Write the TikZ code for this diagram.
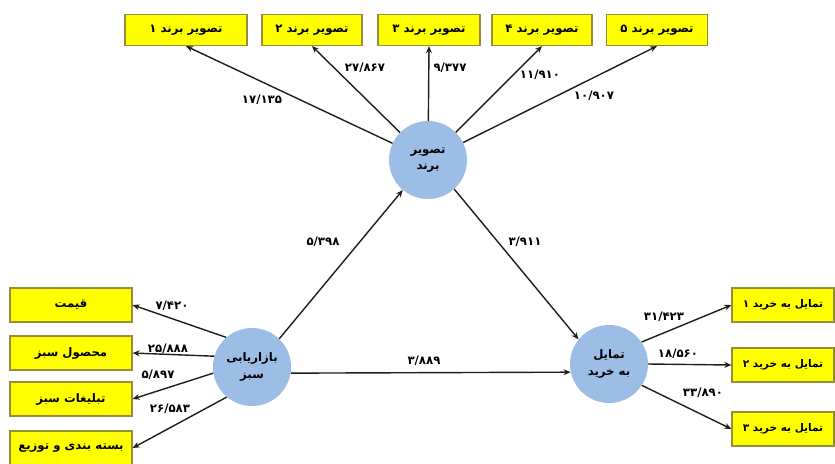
\documentclass[tikz,border=0pt]{standalone}
\usepackage{fontspec}
\usetikzlibrary{arrows.meta}
\TeXXeTstate=1
\newfontfamily\farsi[Script=Arabic]{DejaVu Sans}
\definecolor{boxyellow}{RGB}{255,255,0}
\definecolor{boxedge}{RGB}{150,140,60}
\definecolor{ballblue}{RGB}{157,190,228}
\definecolor{arrowgray}{RGB}{30,30,30}

\tikzset{
  fbox/.style={draw=boxedge, fill=boxyellow, line width=1pt, inner sep=1pt,
    font={\farsi\bfseries\fontsize{10}{11}\selectfont}},
  ball/.style={circle, fill=ballblue, minimum size=2.34cm, inner sep=0pt,
    align=center, font={\farsi\bfseries\fontsize{10}{14}\selectfont}},
  val/.style={inner sep=1pt, font={\farsi\bfseries\fontsize{10}{11}\selectfont}},
  link/.style={draw=arrowgray, line width=1.2pt, -{Stealth[length=6pt,width=5pt]}}
}

\begin{document}
\begin{tikzpicture}[x=0.03cm,y=-0.03cm]
    \useasboundingbox (0,0) rectangle (835,463);

    % latent variables
    \node [ball] (brand) at (428,160) {\beginR تصویر\endR\\\beginR برند\endR};
    \node [ball] (green) at (252,367) {\beginR بازاریابی\endR\\\beginR سبز\endR};
    \node [ball] (buy)   at (609,364) {\beginR تمایل\endR\\\beginR به خرید\endR};

    % indicators of brand image
    \node [fbox, minimum width=3.66cm, minimum height=0.93cm] (b1) at (186,30) {\beginR تصویر برند ۱\endR};
    \node [fbox, minimum width=3cm, minimum height=0.93cm] (b2) at (312,30) {\beginR تصویر برند ۲\endR};
    \node [fbox, minimum width=3.06cm, minimum height=0.93cm] (b3) at (429,30) {\beginR تصویر برند ۳\endR};
    \node [fbox, minimum width=3cm, minimum height=0.93cm] (b4) at (542,30) {\beginR تصویر برند ۴\endR};
    \node [fbox, minimum width=3.03cm, minimum height=0.93cm] (b5) at (657,30) {\beginR تصویر برند ۵\endR};

    % indicators of green marketing
    \node [fbox, minimum width=3.66cm, minimum height=1.02cm] (g1) at (71,305) {\beginR قیمت\endR};
    \node [fbox, minimum width=3.66cm, minimum height=1.02cm] (g2) at (71,353) {\beginR محصول سبز\endR};
    \node [fbox, minimum width=3.66cm, minimum height=1.02cm] (g3) at (71,399) {\beginR تبلیغات سبز\endR};
    \node [fbox, minimum width=3.66cm, minimum height=1.02cm] (g4) at (71,448) {\beginR بسته بندی و توزیع\endR};

    % indicators of purchase intention
    \node [fbox, minimum width=3.06cm, minimum height=1.02cm, font={\farsi\bfseries\fontsize{9}{10}\selectfont}] (p1) at (783,305) {\beginR تمایل به خرید ۱\endR};
    \node [fbox, minimum width=3.06cm, minimum height=1.02cm, font={\farsi\bfseries\fontsize{9}{10}\selectfont}] (p2) at (783,365) {\beginR تمایل به خرید ۲\endR};
    \node [fbox, minimum width=3.06cm, minimum height=1.02cm, font={\farsi\bfseries\fontsize{9}{10}\selectfont}] (p3) at (783,429) {\beginR تمایل به خرید ۳\endR};

    \draw [link] (brand) -- (b1.south);
    \draw [link] (brand) -- (b2.south);
    \draw [link] (brand) -- (b3.south);
    \draw [link] (brand) -- (b4.south);
    \draw [link] (brand) -- (b5.south);

    \draw [link] (green.131) -- (g1.east);
    \draw [link] (green.164) -- (g2.east);
    \draw [link] (green.189) -- (g3.east);
    \draw [link] (green.230) -- (g4.east);

    \draw [link] (buy.34) -- (p1.west);
    \draw [link] (buy.0) -- (p2.west);
    \draw [link] (buy.-33) -- (p3.west);

    \draw [link] (green.46) -- (brand.230);
    \draw [link] (brand.312) -- (buy.141);
    \draw [link] (green.-9) -- (buy.192);

    % loadings and path values
    \node [val] (v1) at (262,100) {۱۷/۱۳۵};
    \node [val] (v2) at (365,68) {۲۷/۸۶۷};
    \node [val] (v3) at (450,68) {۹/۳۷۷};
    \node [val] (v4) at (540,75) {۱۱/۹۱۰};
    \node [val] (v5) at (594,96) {۱۰/۹۰۷};
    \node [val] (v6) at (172,306) {۷/۴۲۰};
    \node [val] (v7) at (168,349) {۲۵/۸۸۸};
    \node [val] (v8) at (158,375) {۵/۸۹۷};
    \node [val] (v9) at (170,409) {۲۶/۵۸۳};
    \node [val] (v10) at (664,317) {۳۱/۴۲۳};
    \node [val] (v11) at (678,354) {۱۸/۵۶۰};
    \node [val] (v12) at (703,393) {۳۳/۸۹۰};
    \node [val] (v13) at (323,242) {۵/۳۹۸};
    \node [val] (v14) at (525,242) {۳/۹۱۱};
    \node [val] (v15) at (424,361) {۳/۸۸۹};
\end{tikzpicture}
\end{document}
